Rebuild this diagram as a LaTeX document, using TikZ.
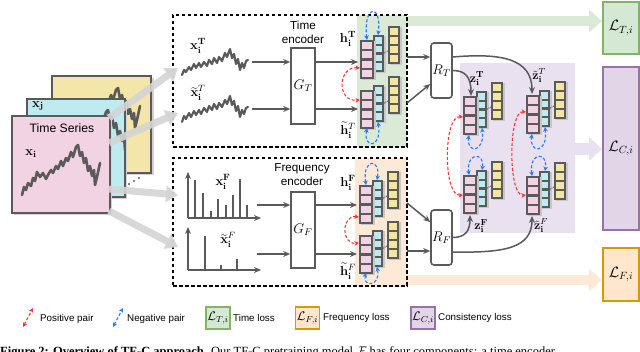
\RequirePackage{fix-cm}
\documentclass[tikz,border=0pt]{standalone}
\usepackage[no-math]{fontspec}
\setmainfont{Liberation Serif}
\setsansfont{Liberation Sans}
\usepackage{amsmath}
\usetikzlibrary{arrows.meta}

\definecolor{framegray}{HTML}{5A5A5A}
\definecolor{cpink}{HTML}{F2D2E3}
\definecolor{ccyan}{HTML}{BDEBEF}
\definecolor{cyel}{HTML}{F4E5A4}
\definecolor{cardpink}{HTML}{F2D3E3}
\definecolor{cardcyan}{HTML}{BEEAF0}
\definecolor{cardyel}{HTML}{F3E6A8}
\definecolor{gfill}{HTML}{D5E8D4}
\definecolor{gline}{HTML}{82B366}
\definecolor{ofill}{HTML}{FFE6CC}
\definecolor{oline}{HTML}{D79B00}
\definecolor{pfill}{HTML}{E1D5E7}
\definecolor{pline}{HTML}{9673A6}
\definecolor{gregion}{HTML}{DAEAD6}
\definecolor{oregion}{HTML}{FDE9D6}
\definecolor{pregion}{HTML}{E9E0F0}
\definecolor{posred}{HTML}{FF3535}
\definecolor{negblue}{HTML}{1F7BFF}
\definecolor{arrgray}{HTML}{D4D4D4}

\newcommand{\embcol}[5]{%
  \fill[black!22] (#1+1.5,#2+1.5) rectangle ++(#3,#4);
  \fill[framegray] (#1,#2) rectangle ++(#3,#4);
  \pgfmathsetmacro{\cellh}{(#4-2)/4}
  \foreach \k in {0,1,2,3}{
    \fill[#5] (#1+2.2,#2+2.2+\k*\cellh) rectangle ++(#3-4.4,\cellh-2.2);
  }
}
\newcommand{\embstack}[2]{%
  \embcol{#1+13}{#2-5}{11}{37}{ccyan}
  \embcol{#1}{#2}{14}{39}{cpink}
  \embcol{#1+28}{#2-14}{12}{38}{cyel}
  \foreach \d in {0,1,2}{\fill[framegray] (#1+24.6+\d*1.4,#2+13-\d*0.9) circle[radius=0.65pt];}
}

\tikzset{
  lbl/.style={font=\fontsize{13}{15}\selectfont, inner sep=0pt},
  zlbl/.style={font=\fontsize{12.5}{14}\selectfont, inner sep=0pt},
  sanslbl/.style={font=\sffamily\fontsize{11.7}{14}\selectfont, align=center, inner sep=0pt},
  legtxt/.style={font=\sffamily\fontsize{9.8}{11}\selectfont, anchor=west, inner sep=0pt},
  garr/.style={draw=framegray, line width=1.5pt, -{Stealth[length=7pt,width=6pt]}},
  encbox/.style={draw=framegray, line width=1.6pt, fill=white, minimum width=24pt, minimum height=76pt, inner sep=0pt, font=\fontsize{14}{16}\selectfont},
  projbox/.style={draw=framegray, line width=1.6pt, fill=white, rounded corners=3pt, minimum width=21pt, minimum height=55pt, inner sep=0pt, font=\fontsize{14}{16}\selectfont},
  posarr/.style={draw=posred, line width=1.1pt, dash pattern=on 3pt off 2pt, {Stealth[length=4.5pt,width=4.5pt]}-{Stealth[length=4.5pt,width=4.5pt]}},
  negarr/.style={draw=negblue, line width=1.1pt, dash pattern=on 3pt off 2pt, {Stealth[length=4.5pt,width=4.5pt]}-{Stealth[length=4.5pt,width=4.5pt]}},
  bigarr/.style={draw=arrgray, draw opacity=0.9, line width=7pt, -{Triangle[length=12pt,width=16pt]}},
  sig/.style={draw=framegray, line width=2.2pt, line join=round, line cap=round},
  axisarr/.style={draw=framegray, line width=2pt, -{Stealth[length=7pt,width=6pt]}},
  specbar/.style={draw=framegray, line width=2pt},
  lossbox/.style={line width=2pt, inner sep=0pt, font=\fontsize{15}{17}\selectfont},
  legbox/.style={line width=1.6pt, inner sep=0pt, minimum width=24pt, minimum height=22pt, font=\fontsize{12.5}{14}\selectfont},
  card/.style={draw=framegray, line width=1.6pt, inner sep=0pt},
  dashbox/.style={draw=black, line width=1.1pt, dash pattern=on 3.5pt off 2.5pt, inner sep=0pt},
  band/.style={line width=10pt},
}

\begin{document}
\begin{tikzpicture}[x=1pt,y=-1pt]
\useasboundingbox (0,0) rectangle (640,352);
\fill[white] (0,0) rectangle (640,352);

% loss boxes
\node[lossbox, draw=gline, fill=gfill, minimum width=36pt, minimum height=52pt] (LT) at (621,28) {$\mathcal{L}_{T,i}$};
\node[lossbox, draw=pline, fill=pfill, minimum width=36pt, minimum height=163pt] (LC) at (621,148.5) {$\mathcal{L}_{C,i}$};
\node[lossbox, draw=oline, fill=ofill, minimum width=36pt, minimum height=53pt] (LF) at (621,274.5) {$\mathcal{L}_{F,i}$};

% regions
\fill[gregion] (357,15) rectangle (407,147);
\fill[oregion] (355,158) rectangle (407,287);
\fill[pregion] (460,63) rectangle (575,233);
\coordinate (gband) at (400,21);
\coordinate (oband) at (400,280);
\coordinate (pband) at (570,149);
\draw[band, draw=gregion, -{Triangle[length=13pt,width=22pt]}] (gband) -- (gband -| LT.west);
\draw[band, draw=oregion, -{Triangle[length=13pt,width=22pt]}] (oband) -- (oband -| LF.west);
\draw[band, line width=12pt, draw=pregion, -{Triangle[length=13pt,width=23pt]}] (pband) -- (pband -| LC.west);

% dashed boxes
\node[dashbox, minimum width=234pt, minimum height=132pt] (boxT) at (290,81) {};
\node[dashbox, minimum width=234pt, minimum height=128pt] (boxF) at (290,222) {};

% cards
\fill[black!18] (54,78) rectangle (154,175);
\node[card, fill=cardyel, minimum width=99pt, minimum height=97pt] (cardK) at (101.5,124.5) {};
\begin{scope}
\clip (52,76) rectangle (151,173);
\draw[sig, line width=2.6pt, shift={(40,-57)}] plot coordinates {(22,195) (24,187) (26,190) (28,183) (31,186) (33,178) (35,181) (37,172) (40,177) (43,173) (46,179) (48,175) (51,170) (53,173) (56,166) (58,169) (61,161) (63,166) (66,158) (68,161) (71,152) (73,157) (76,147) (78,145) (80,156) (82,152) (84,163) (86,158) (88,171) (90,166) (92,176) (94,170) (95,185) (97,177) (100,163)};
\end{scope}
\fill[black!18] (29,101) rectangle (127,199);
\node[card, fill=cardcyan, minimum width=98pt, minimum height=98pt] (cardJ) at (76,148) {};
\begin{scope}
\clip (27,99) rectangle (125,197);
\draw[sig, line width=2.6pt, shift={(30,-35)}] plot coordinates {(22,195) (24,187) (26,190) (28,183) (31,186) (33,178) (35,181) (37,172) (40,177) (43,173) (46,179) (48,175) (51,170) (53,173) (56,166) (58,169) (61,161) (63,166) (66,158) (68,161) (71,152) (73,157) (76,147) (78,145) (80,156) (82,152) (84,163) (86,158) (88,171) (90,166) (92,176) (94,170) (95,185) (97,177) (100,163)};
\end{scope}
\fill[black!18] (14,118) rectangle (112,215);
\node[card, fill=cardpink, minimum width=98pt, minimum height=97pt] (cardI) at (61,164.5) {};
\draw[sig, line width=2.6pt] plot coordinates {(22,195) (24,187) (26,190) (28,183) (31,186) (33,178) (35,181) (37,172) (40,177) (43,173) (46,179) (48,175) (51,170) (53,173) (56,166) (58,169) (61,161) (63,166) (66,158) (68,161) (71,152) (73,157) (76,147) (78,145) (80,156) (82,152) (84,163) (86,158) (88,171) (90,166) (92,176) (94,170) (95,185) (97,177) (100,163)};
\node[font=\sffamily\fontsize{12.2}{14}\selectfont, inner sep=0pt] (tslbl) at (62,128) {Time Series};
\node[lbl] (xilbl) at (31,154) {$\mathbf{x}_{\mathbf{i}}$};
\node[lbl] (xjlbl) at (38,106) {$\mathbf{x}_{\mathbf{j}}$};
\foreach \d in {0,1,2}{\fill[framegray] (129+\d*5,184-\d*3) circle[radius=1.1pt];}

% big gray arrows
\coordinate (g1s) at (109,118); \coordinate (g1e) at (178,68);
\coordinate (g2s) at (109,143); \coordinate (g2e) at (178,113);
\coordinate (g3s) at (109,189); \coordinate (g3e) at (178,195);
\coordinate (g4s) at (109,211); \coordinate (g4e) at (178,247);
\draw[bigarr] (g1s) -- (g1e);
\draw[bigarr] (g2s) -- (g2e);
\draw[bigarr] (g3s) -- (g3e);
\draw[bigarr] (g4s) -- (g4e);

% time signals
\draw[sig] plot coordinates {(182,75) (184,70) (186,72) (189,67) (191,70) (194,64) (196,68) (199,63) (201,67) (204,62) (207,66) (209,60) (212,64) (214,58) (217,63) (219,57) (222,61) (225,53) (227,57) (230,49) (232,58) (234,54) (236,64) (238,59) (240,70) (242,63) (244,68) (246,61) (248,60)};
\draw[sig] plot coordinates {(182,122) (184,116) (186,119) (189,113) (191,117) (194,111) (196,115) (199,110) (201,114) (204,108) (207,112) (209,106) (212,110) (214,104) (217,109) (219,103) (222,107) (225,100) (227,104) (230,96) (232,105) (234,101) (236,111) (238,106) (240,117) (242,110) (244,114) (246,108) (248,107)};
\node[lbl] (xTlbl) at (198,46) {$\mathbf{x}_{\mathbf{i}}^{\mathbf{T}}$};
\node[lbl] (xtTlbl) at (198,93) {$\widetilde{\mathbf{x}}_{\mathbf{i}}^{T}$};

% spectra
\coordinate (sp1o) at (188,218); \coordinate (sp1y) at (188,172); \coordinate (sp1x) at (261,218);
\draw[axisarr] (sp1o) -- (sp1y);
\draw[axisarr] (sp1o) -- (sp1x);
\foreach \bx/\by in {195/180,203/193,211/211,218/199,226/205,233/195,240/179,247/205}{\draw[specbar] (\bx,218) -- (\bx,\by);}
\coordinate (sp2o) at (188,270); \coordinate (sp2y) at (188,227); \coordinate (sp2x) at (261,270);
\draw[axisarr] (sp2o) -- (sp2y);
\draw[axisarr] (sp2o) -- (sp2x);
\foreach \bx/\by in {205/236,221/265,237/259}{\draw[specbar] (\bx,270) -- (\bx,\by);}
\node[lbl] (xFlbl) at (223,182) {$\mathbf{x}_{\mathbf{i}}^{\mathbf{F}}$};
\node[lbl] (xtFlbl) at (228,240) {$\widetilde{\mathbf{x}}_{\mathbf{i}}^{F}$};

% encoders
\node[encbox] (GT) at (303,86) {$G_T$};
\node[encbox] (GF) at (303,230) {$G_F$};
\node[sanslbl] (tenc) at (303,32) {Time\\encoder};
\node[sanslbl] (fenc) at (302,175) {Frequency\\encoder};

\coordinate (xTe) at (252,62);
\coordinate (xtTe) at (252,109);
\coordinate (hTin) at (358,62);
\coordinate (htTin) at (358,109);
\draw[garr] (xTe) -- (xTe -| GT.west);
\draw[garr] (xtTe) -- (xtTe -| GT.west);
\draw[garr] (GT.east |- hTin) -- (hTin);
\draw[garr] (GT.east |- htTin) -- (htTin);
\coordinate (xFe) at (257,205);
\coordinate (xtFe) at (257,254);
\coordinate (hFin) at (357,205);
\coordinate (htFin) at (357,254);
\draw[garr] (xFe) -- (xFe -| GF.west);
\draw[garr] (xtFe) -- (xtFe -| GF.west);
\draw[garr] (GF.east |- hFin) -- (hFin);
\draw[garr] (GF.east |- htFin) -- (htFin);

% projectors
\node[projbox] (RT) at (441.5,70.5) {$R_T$};
\node[projbox] (RF) at (441.5,237.5) {$R_F$};
\coordinate (hTout) at (407,57);
\coordinate (htTout) at (407,103);
\coordinate (hFout) at (407,203);
\coordinate (htFout) at (407,251);
\draw[garr] (hTout) -- (hTout -| RT.west);
\draw[garr] (htTout) -- ([yshift=-13.5pt]RT.west);
\draw[garr] (hFout) -- ([yshift=15.5pt]RF.west);
\draw[garr] (htFout) -- (htFout -| RF.west);
\coordinate (zTin) at (471,96);
\coordinate (ztTin) at (532,94);
\coordinate (zFin) at (470,215);
\coordinate (ztFin) at (532,216);
\draw[garr] (RT.east) .. controls (466,70.5) and (471,78) .. (zTin);
\draw[garr] ([yshift=13.5pt]RT.east) .. controls (500,53) and (532,58) .. (ztTin);
\draw[garr] (RF.east) .. controls (466,237.5) and (470,230) .. (zFin);
\draw[garr] ([yshift=-14.5pt]RF.east) .. controls (505,253) and (532,248) .. (ztFin);

% embedding stacks
\embstack{360}{40}
\embstack{360}{90}
\embstack{359}{185}
\embstack{359}{235}
\embstack{463}{96}
\embstack{526}{95}
\embstack{463}{175}
\embstack{526}{176}

\node[lbl] (hTlbl) at (348,39) {$\mathbf{h}_{\mathbf{i}}^{\mathbf{T}}$};
\node[lbl] (htTlbl) at (348,130) {$\widetilde{\mathbf{h}}_{\mathbf{i}}^{T}$};
\node[lbl] (hFlbl) at (348,183) {$\mathbf{h}_{\mathbf{i}}^{\mathbf{F}}$};
\node[lbl] (htFlbl) at (348,271) {$\widetilde{\mathbf{h}}_{\mathbf{i}}^{F}$};
\node[zlbl] (zTlbl) at (477,79) {$\mathbf{z}_{\mathbf{i}}^{\mathbf{T}}$};
\node[zlbl] (ztTlbl) at (539,76) {$\tilde{\mathbf{z}}_{\mathbf{i}}^{T}$};
\node[zlbl] (zFlbl) at (481,226) {$\mathbf{z}_{\mathbf{i}}^{\mathbf{F}}$};
\node[zlbl] (ztFlbl) at (541,226) {$\tilde{\mathbf{z}}_{\mathbf{i}}^{F}$};

% positive pairs
\coordinate (pa1) at (360,68); \coordinate (pa2) at (360,100);
\draw[posarr] (pa1) .. controls (338,66) and (336,102) .. (pa2);
\coordinate (pb1) at (359,217); \coordinate (pb2) at (359,243);
\draw[posarr] (pb1) .. controls (341,215) and (341,245) .. (pb2);
\coordinate (pc1) at (463,117); \coordinate (pc2) at (463,195);
\draw[posarr] (pc1) .. controls (443,115) and (443,197) .. (pc2);
\coordinate (pd1) at (526,112); \coordinate (pd2) at (526,195);
\draw[posarr] (pd1) .. controls (508,110) and (508,197) .. (pd2);

% negative pairs
\coordinate (na1) at (367,40); \coordinate (na2) at (378,35);
\draw[negarr] (na1) .. controls (363,3.5) and (382,3.5) .. (na2);
\coordinate (nb1) at (367,128); \coordinate (nb2) at (378,122);
\draw[negarr] (nb1) .. controls (363,149) and (382,149) .. (nb2);
\coordinate (nc1) at (366,185); \coordinate (nc2) at (377,180);
\draw[negarr] (nc1) .. controls (362,158) and (381,158) .. (nc2);
\coordinate (nd1) at (366,273); \coordinate (nd2) at (377,267);
\draw[negarr] (nd1) .. controls (362,287) and (381,287) .. (nd2);
\coordinate (ne1) at (469,135); \coordinate (ne2) at (482,128);
\draw[negarr] (ne1) .. controls (466,153.5) and (485,153.5) .. (ne2);
\coordinate (nf1) at (469,175); \coordinate (nf2) at (482,170);
\draw[negarr] (nf1) .. controls (466,152) and (485,152) .. (nf2);
\coordinate (ng1) at (532,134); \coordinate (ng2) at (545,127);
\draw[negarr] (ng1) .. controls (529,154) and (548,154) .. (ng2);
\coordinate (nh1) at (532,176); \coordinate (nh2) at (545,171);
\draw[negarr] (nh1) .. controls (529,151.5) and (548,151.5) .. (nh2);

% legend
\coordinate (lp1) at (23,327); \coordinate (lp2) at (33,308);
\draw[posarr] (lp1) -- (lp2);
\node[legtxt] (lptxt) at (40,319) {Positive pair};
\coordinate (ln1) at (113,327); \coordinate (ln2) at (123,308);
\draw[negarr] (ln1) -- (ln2);
\node[legtxt] (lntxt) at (127,319) {Negative pair};
\node[legbox, draw=gline, fill=gfill] (legT) at (218,318) {$\mathcal{L}_{T,i}$};
\node[legtxt] (legTtxt) at (233,318) {Time loss};
\node[legbox, draw=oline, fill=ofill] (legF) at (307.5,318) {$\mathcal{L}_{F,i}$};
\node[legtxt] (legFtxt) at (323,318) {Frequency loss};
\node[legbox, draw=pline, fill=pfill] (legC) at (423,318) {$\mathcal{L}_{C,i}$};
\node[legtxt] (legCtxt) at (438,318) {Consistency loss};

% caption (cut off by the frame)
\node[anchor=north west, inner sep=0pt, font=\fontsize{12.5}{14}\selectfont] (cap) at (0,346) {\textbf{Figure 2: Overview of TF-C approach.} Our TF-C pretraining model $\mathcal{F}$ has four components: a time encoder};
\end{tikzpicture}
\end{document}
